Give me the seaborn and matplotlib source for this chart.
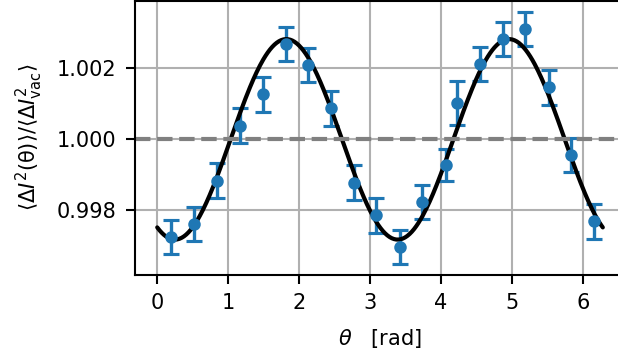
import numpy as np
import pandas as pd
import matplotlib
matplotlib.use("Agg")
import matplotlib.pyplot as plt
import seaborn as sns

# measured points (theta in rad, normalised variance, error)
theta = [0.19, 0.52, 0.84, 1.17, 1.49, 1.81, 2.13, 2.45, 2.78, 3.09,
         3.42, 3.74, 4.07, 4.23, 4.55, 4.87, 5.19, 5.52, 5.84, 6.16]
ratio = [0.99723, 0.99760, 0.99882, 1.00038, 1.00126, 1.00268, 1.00209, 1.00087, 0.99877, 0.99785,
         0.99694, 0.99821, 0.99927, 1.00101, 1.00212, 1.00282, 1.00311, 1.00146, 0.99955, 0.99768]
err = [0.00049, 0.00049, 0.00049, 0.00049, 0.00049, 0.00049, 0.00049, 0.00049, 0.00049, 0.00049,
       0.00048, 0.00048, 0.00046, 0.00062, 0.00049, 0.00049, 0.00048, 0.00049, 0.00049, 0.00049]

# fit: offset + amp * cos(2 theta - phase)
fit_offset = 0.99999
fit_amp = 0.00283
fit_phase = 3.64

df = pd.DataFrame({"theta": theta, "ratio": ratio, "err": err})
th = np.linspace(0, 2 * np.pi, 400)
fit = pd.DataFrame({"theta": th, "ratio": fit_offset + fit_amp * np.cos(2 * th - fit_phase)})

sns.set_style("ticks")
plt.rcParams["font.family"] = ["DejaVu Sans"]
plt.rcParams["text.color"] = "black"
plt.rcParams["axes.labelcolor"] = "black"

fig = plt.figure(figsize=(6.18 / 1.5, 3.58 / 1.5), dpi=150)
ax = fig.add_axes([0.2184, 0.2318, 0.793, 0.7668])

ax.errorbar(df["theta"], df["ratio"], yerr=df["err"], fmt="o", color="#1f77b4",
            ms=5, capsize=4, capthick=1.5, elinewidth=1.6)
sns.lineplot(data=fit, x="theta", y="ratio", color="black", lw=2, ax=ax)
ax.axhline(1.0, color="gray", ls="--", lw=2)

ax.set_xlim(-0.314, 6.597)
ax.set_ylim(0.99616, 1.00391)
ax.set_xticks([0, 1, 2, 3, 4, 5, 6])
ax.set_yticks([0.998, 1.000, 1.002])
ax.set_yticklabels(["0.998", "1.000", "1.002"])
ax.grid(True, color="#b0b0b0", lw=1.0)
for s in ax.spines.values():
    s.set_color("black")
    s.set_linewidth(1.0)
ax.tick_params(direction="out", length=4.3, width=1.0, pad=4.5, colors="black", labelsize=10)

ax.set_xlabel(r"$\theta$   [rad]", fontsize=10, labelpad=6.4)
ax.set_ylabel(r"$\langle\Delta I^2(\mathrm{\theta})\rangle/\langle\Delta I^2_{\rm vac}\rangle$",
              fontsize=10, labelpad=5.5)

fig.savefig("out.png", dpi=150)
